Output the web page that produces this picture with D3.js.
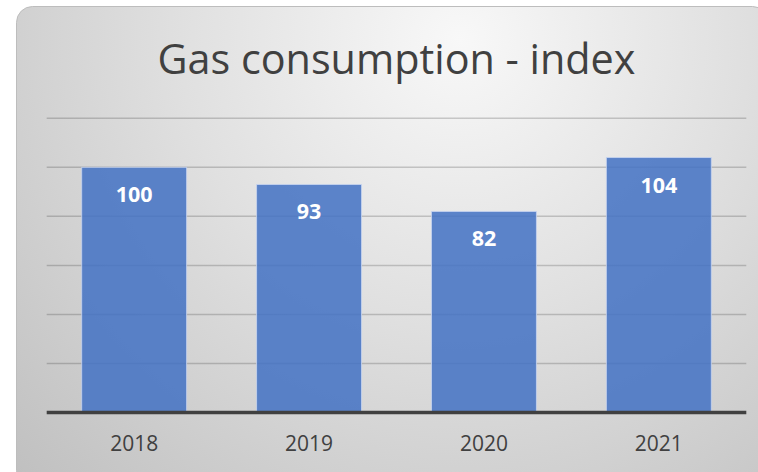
<!DOCTYPE html>
<html>
<head>
<meta charset="utf-8">
<script src="https://cdn.jsdelivr.net/npm/d3@7"></script>
<style>
  html, body { margin: 0; padding: 0; background: #fff; }
  svg { display: block; }
</style>
</head>
<body>
<svg id="chart" width="758" height="472"></svg>
<script>
const years = ['2018', '2019', '2020', '2021']
const indexValues = [100, 93, 82, 104]
const gridTicks = [0, 20, 40, 60, 80, 100, 120]
const title = 'Gas consumption - index'

const W = 758, H = 472
const svg = d3.select('#chart')
const defs = svg.append('defs')
const grad = defs.append('radialGradient').attr('id', 'bg')
  .attr('gradientUnits', 'userSpaceOnUse').attr('cx', 460).attr('cy', 40).attr('r', 620)
grad.append('stop').attr('offset', 0).attr('stop-color', '#f8f8f8')
grad.append('stop').attr('offset', 0.45).attr('stop-color', '#e0e0e0')
grad.append('stop').attr('offset', 1).attr('stop-color', '#c0c0c0')

// card
svg.append('rect').attr('x', 16.5).attr('y', 6.5).attr('width', 752).attr('height', 480)
  .attr('rx', 16).attr('fill', 'url(#bg)').attr('stroke', '#bdbdbd').attr('stroke-width', 1)

const plot = { left: 46.7, right: 746.3, top: 118.3, bottom: 412.5 }
const x = d3.scaleBand().domain(years).range([plot.left, plot.right]).paddingInner(0.4).paddingOuter(0.2)
const y = d3.scaleLinear().domain([0, 120]).range([plot.bottom, plot.top])

// title, fitted to the reference width
const t = svg.append('text').attr('x', (plot.left + plot.right) / 2).attr('y', 74)
  .attr('text-anchor', 'middle').attr('fill', '#404040')
  .style('font-family', '"Open Sans", sans-serif').style('font-weight', 400).style('font-size', '44px')
  .text(title)
const tw = t.node().getComputedTextLength()
t.style('font-size', (44 * 478 / tw) + 'px')

// gridlines
svg.append('g').selectAll('line').data(gridTicks.filter(d => d > 0)).join('line')
  .attr('x1', plot.left).attr('x2', plot.right)
  .attr('y1', d => y(d)).attr('y2', d => y(d))
  .attr('stroke', '#000').attr('stroke-opacity', 0.18).attr('stroke-width', 1.5)

// bars
const data = years.map((yr, i) => ({ yr, v: indexValues[i] }))
svg.append('g').selectAll('rect').data(data).join('rect')
  .attr('x', d => x(d.yr)).attr('width', x.bandwidth())
  .attr('y', d => y(d.v)).attr('height', d => y(0) - y(d.v))
  .attr('fill', '#4472c4').attr('fill-opacity', 0.86)
  .attr('stroke', '#c9d6f0').attr('stroke-opacity', 0.8).attr('stroke-width', 1)

// value labels
svg.append('g').selectAll('text').data(data).join('text')
  .attr('x', d => x(d.yr) + x.bandwidth() / 2).attr('y', d => y(d.v) + 35)
  .attr('text-anchor', 'middle').attr('fill', '#fff')
  .style('font-family', '"Open Sans", sans-serif').style('font-weight', 700).style('font-size', '21.5px')
  .text(d => d.v)

// axis
const xAxis = svg.append('g').attr('transform', `translate(0,${plot.bottom})`)
  .call(d3.axisBottom(x).tickSize(0).tickPadding(0))
xAxis.select('.domain').attr('d', `M${plot.left},0H${plot.right}`)
  .attr('stroke', '#404040').attr('stroke-width', 3.5)
xAxis.selectAll('.tick text').attr('y', 38.5).attr('dy', null).attr('fill', '#404040')
  .style('font-family', '"Open Sans", sans-serif').style('font-size', '21px')
</script>
</body>
</html>
